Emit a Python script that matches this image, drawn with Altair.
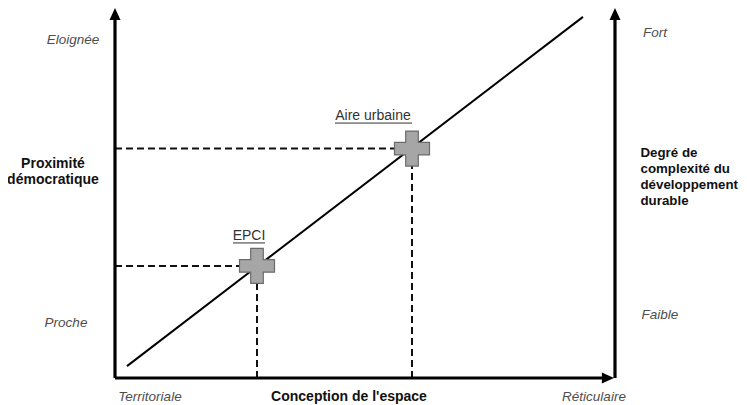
import altair as alt
import pandas as pd

# Conceptual coordinates: x = "Conception de l'espace" (0 = territoriale, 100 = réticulaire)
# y = proximité démocratique / degré de complexité (0 = proche/faible, 100 = éloignée/fort)

# diagonal trend line
diag_x = [2.4, 93.6]
diag_y = [3.2, 97.6]

# places on the trend line
place_names = ["EPCI", "Aire urbaine"]
place_x = [28.4, 59.4]
place_y = [30.3, 62.0]

# place labels (underlined)
label_x = [26.8, 51.6]
label_y = [38.4, 70.7]
underline_x1 = [23.6, 44.0]
underline_x2 = [30.0, 59.4]
underline_y = [36.5, 68.9]

# axes (thick lines) and their arrow heads
axis_x1 = [0, 0, 100]
axis_y1 = [0, 0, 0]
axis_x2 = [0, 97.8, 100]
axis_y2 = [97.5, 0, 97.5]
arrow_x = [0, 99.8, 100]
arrow_y = [100, 0, 100]
arrow_dir = ["up", "right", "up"]

# italic scale labels
end_labels = ["Eloignée", "Proche", "Fort", "Faible", "Territoriale", "Réticulaire"]
end_label_x = [-8.4, -9.8, 108.0, 109.0, 7.0, 95.8]
end_label_y = [91.4, 14.9, 93.2, 17.0, -5.1, -5.1]

# bold axis titles (y = first line)
title_texts = ["Proximité\ndémocratique", "Conception de l'espace"]
title_x = [-12.4, 46.8]
title_y = [57.8, -5.1]
right_title = ["Degré de\ncomplexité du\ndéveloppement\ndurable"]
right_title_x = [105.1]
right_title_y = [60.8]

W, H = 731, 389
X_DOM = [-21.4, -21.4 + W / 5.0]
Y_DOM = [(378 - 397) / 3.7, (378 - 8) / 3.7]

FONT = "Liberation Sans"


def X(field="x"):
    return alt.X(field, type="quantitative", axis=None,
                 scale=alt.Scale(domain=X_DOM, nice=False, zero=False))


def Y(field="y"):
    return alt.Y(field, type="quantitative", axis=None,
                 scale=alt.Scale(domain=Y_DOM, nice=False, zero=False))


diag_df = pd.DataFrame({"x": diag_x, "y": diag_y})
place_df = pd.DataFrame({"name": place_names, "x": place_x, "y": place_y})
label_df = pd.DataFrame({"name": place_names, "x": label_x, "y": label_y})
under_df = pd.DataFrame({"x": underline_x1, "x2": underline_x2, "y": underline_y})
axis_df = pd.DataFrame({"x": axis_x1, "y": axis_y1, "x2": axis_x2, "y2": axis_y2})
arrow_df = pd.DataFrame({"x": arrow_x, "y": arrow_y, "dir": arrow_dir})
end_df = pd.DataFrame({"text": end_labels, "x": end_label_x, "y": end_label_y})
title_df = pd.DataFrame({"text": title_texts, "x": title_x, "y": title_y})
rtitle_df = pd.DataFrame({"text": right_title, "x": right_title_x, "y": right_title_y})

# dashed projections from each place to both axes
h_dash = pd.DataFrame({"x": [0] * len(place_x), "x2": place_x, "y": place_y})
v_dash = pd.DataFrame({"x": place_x, "y": [0] * len(place_y), "y2": place_y})

dash_h = alt.Chart(h_dash).mark_rule(color="#111", strokeWidth=2, strokeDash=[7, 4]).encode(
    x=X(), x2="x2", y=Y())
dash_v = alt.Chart(v_dash).mark_rule(color="#111", strokeWidth=2, strokeDash=[7, 4]).encode(
    x=X(), y=Y(), y2="y2")

diag = alt.Chart(diag_df).mark_line(color="#000", strokeWidth=2).encode(x=X(), y=Y())

axes = alt.Chart(axis_df).mark_rule(color="#000", strokeWidth=3.2).encode(
    x=X(), y=Y(), x2="x2", y2="y2")

arrows = alt.Chart(arrow_df).mark_point(filled=True, color="#000", size=484, opacity=1).encode(
    x=X(), y=Y(),
    shape=alt.Shape("dir:N", legend=None, scale=alt.Scale(
        domain=["up", "right"],
        range=["M0,0L-0.5,1.1L0.5,1.1Z", "M0,0L-1.1,-0.5L-1.1,0.5Z"])))

cross_path = "M-1,-0.36H-0.36V-1H0.36V-0.36H1V0.36H0.36V1H-0.36V0.36H-1Z"
crosses = alt.Chart(place_df).mark_point(
    shape=cross_path, filled=True, size=1225, fill="#a6a6a6", stroke="#6b6b6b",
    strokeWidth=1.2, opacity=1, fillOpacity=1, strokeOpacity=1).encode(x=X(), y=Y())

place_labels = alt.Chart(label_df).mark_text(
    font=FONT, fontSize=14, color="#333", align="center", baseline="middle").encode(
    x=X(), y=Y(), text="name:N")
underlines = alt.Chart(under_df).mark_rule(color="#333", strokeWidth=1).encode(
    x=X(), x2="x2", y=Y())

end_text = alt.Chart(end_df).mark_text(
    font=FONT, fontSize=13.5, fontStyle="italic", color="#4d4d4d",
    align="center", baseline="middle").encode(x=X(), y=Y(), text="text:N")

titles = alt.Chart(title_df).mark_text(
    font=FONT, fontSize=14, fontWeight="bold", color="#111", align="center",
    baseline="middle", lineBreak="\n", lineHeight=16).encode(x=X(), y=Y(), text="text:N")

rtitle = alt.Chart(rtitle_df).mark_text(
    font=FONT, fontSize=13.3, fontWeight="bold", color="#111", align="left",
    baseline="middle", lineBreak="\n", lineHeight=16).encode(x=X(), y=Y(), text="text:N")

chart = alt.layer(
    dash_h, dash_v, diag, axes, arrows, crosses, underlines, place_labels,
    end_text, titles, rtitle
).properties(
    width=W, height=H, padding={"left": 0, "top": 0, "right": 0, "bottom": 8},
    autosize=alt.AutoSizeParams(type="none"), background="white"
).configure_view(stroke=None)

chart.save("out.html", embed_options={"renderer": "svg", "actions": False})
